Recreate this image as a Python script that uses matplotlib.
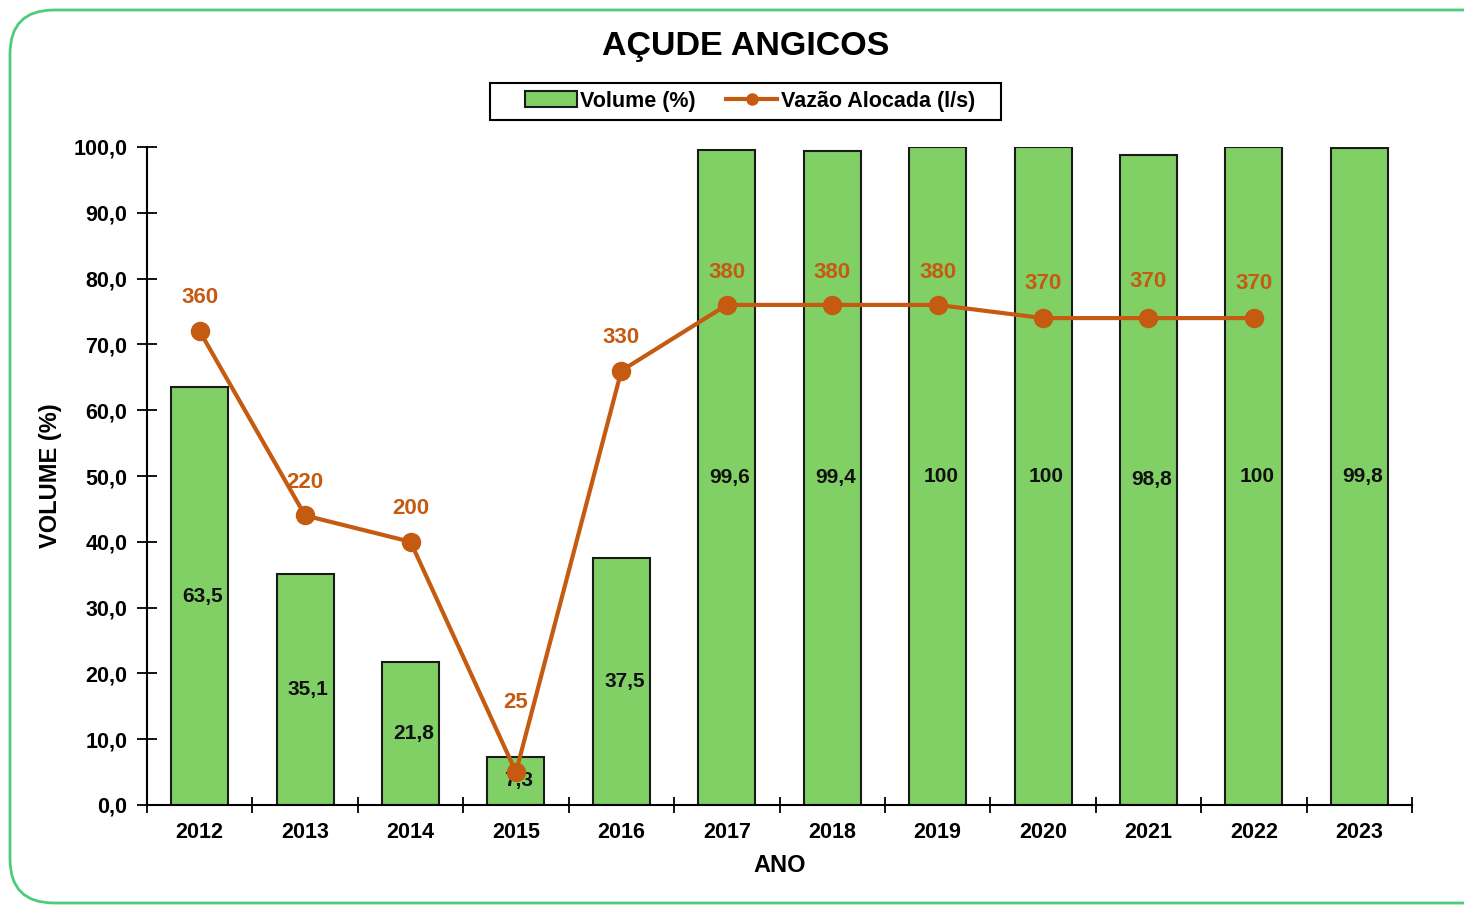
import matplotlib.pyplot as plt
from matplotlib.patches import FancyBboxPatch, Rectangle

# -----------------------
# Data
# -----------------------
anos = ['2012', '2013', '2014', '2015', '2016', '2017', '2018', '2019', '2020', '2021', '2022', '2023']
volume = [63.5, 35.1, 21.8, 7.3, 37.5, 99.6, 99.4, 100, 100, 98.8, 100, 99.8]
volume_labels = ['63,5', '35,1', '21,8', '7,3', '37,5', '99,6', '99,4', '100', '100', '98,8', '100', '99,8']
vazao = [360, 220, 200, 25, 330, 380, 380, 380, 370, 370, 370]
vazao_offsets = [24, 24, 24, 50, 24, 23, 23, 23, 25, 26, 25]

verde = '#80D066'
laranja = '#C55A11'
font = ['Liberation Sans', 'DejaVu Sans']
plt.rcParams['font.family'] = font
plt.rcParams['font.weight'] = 'bold'

fig = plt.figure(figsize=(14.64, 9.06), dpi=100)

# rounded green border
border = FancyBboxPatch((10 / 1464, 3 / 906), 1.2, 893 / 906,
                        boxstyle='round,pad=0,rounding_size=0.03',
                        transform=fig.transFigure, fill=False,
                        edgecolor='#4DCB7E', linewidth=2, mutation_aspect=1464 / 906)
fig.patches.append(border)

ax = fig.add_axes([147 / 1464, 101 / 906, 1265 / 1464, 658 / 906])
x = list(range(len(anos)))

bars = ax.bar(x, volume, width=0.54, color=verde, edgecolor='#1a1a1a', linewidth=1.5,
              label='Volume (%)', zorder=2)
for i, v in enumerate(volume):
    ax.text(i + 0.03, v / 2, volume_labels[i], ha='center', va='center',
            fontsize=15, fontweight='bold', color='#111111', zorder=5)

ax.set_xlim(-0.5, len(anos) - 0.5)
ax.set_ylim(0, 100)
ax.set_yticks(range(0, 101, 10))
ax.set_yticklabels([f'{t},0' for t in range(0, 101, 10)])
ax.set_xticks(x)
ax.set_xticklabels(anos)
ax.set_xticks([i - 0.5 for i in range(len(anos) + 1)], minor=True)
ax.tick_params(axis='x', which='major', length=0, pad=12, labelsize=15.5)
ax.tick_params(axis='x', which='minor', direction='inout', length=12, width=1.3)
ax.tick_params(axis='y', direction='inout', length=14, width=1.3, pad=7, labelsize=15.5)
for s in ['top', 'right']:
    ax.spines[s].set_visible(False)
for s in ['left', 'bottom']:
    ax.spines[s].set_linewidth(1.5)
ax.set_xlabel('ANO', fontsize=17, fontweight='bold', labelpad=8)
ax.set_ylabel('VOLUME (%)', fontsize=17, fontweight='bold', labelpad=8)

# -----------------------
# Vazão on hidden secondary axis
# -----------------------
ax2 = ax.twinx()
ax2.set_ylim(0, 500)
ax2.axis('off')
line, = ax2.plot(x[:len(vazao)], vazao, color=laranja, linewidth=3, marker='o',
                 markersize=13, label='Vazão Alocada (l/s)', zorder=4)
for i, q in enumerate(vazao):
    ax2.annotate(str(q), (i, q), xytext=(0, vazao_offsets[i]), textcoords='offset points',
                 ha='center', va='center', fontsize=16, fontweight='bold', color=laranja)

fig.text(746 / 1464, 1 - 47 / 906, 'AÇUDE ANGICOS', ha='center', va='center',
         fontsize=24.5, fontweight='bold')

# legend without frame, box drawn separately
leg = fig.legend([bars, line], ['Volume (%)', 'Vazão Alocada (l/s)'], loc='center',
                 bbox_to_anchor=(750 / 1464, 1 - 101 / 906), ncol=2, frameon=False,
                 fontsize=15.5, handlelength=2.4, handletextpad=0.15,
                 columnspacing=1.4, borderpad=0.3, borderaxespad=0)
for h in leg.legend_handles:
    if hasattr(h, 'set_markersize'):
        h.set_markersize(8)
fig.patches.append(Rectangle((490 / 1464, 1 - 120 / 906), 511 / 1464, 37 / 906,
                             transform=fig.transFigure, fill=False,
                             edgecolor='black', linewidth=1.5))

fig.savefig('out.png', dpi=100)
